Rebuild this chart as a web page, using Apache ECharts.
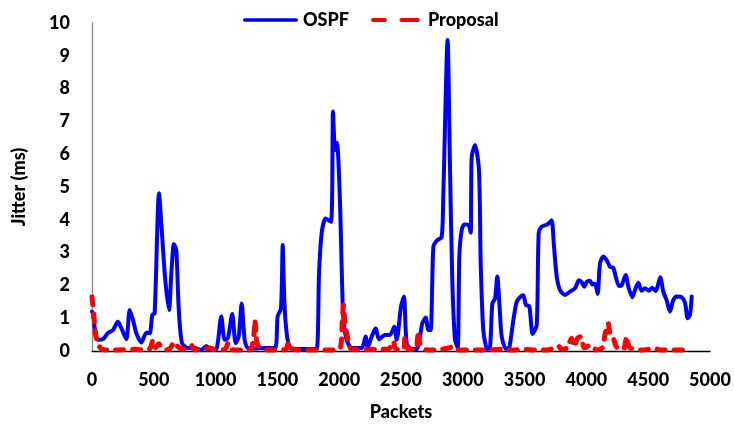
<!DOCTYPE html>
<html>
<head>
<meta charset="utf-8">
<script src="https://cdn.jsdelivr.net/npm/echarts@6/dist/echarts.min.js"></script>
<style>html,body{margin:0;padding:0;background:#fff}#c{width:734px;height:430px}</style>
</head>
<body>
<div id="c"></div>
<script>
const xTicks = [0, 500, 1000, 1500, 2000, 2500, 3000, 3500, 4000, 4500, 5000];
const yTicks = [0, 1, 2, 3, 4, 5, 6, 7, 8, 9, 10];
const seriesNames = ["OSPF", "Proposal"];

const ospfPackets = [0,8,30,49,89,129,170,210,237,278,305,332,359,399,440,467,488,507,542,566,593,623,642,663,682,701,728,777,830,885,925,965,1006,1046,1073,1100,1135,1162,1187,1211,1235,1260,1300,1400,1481,1502,1529,1543,1556,1575,1602,1669,1777,1818,1837,1858,1890,1934,1950,1966,1982,2006,2020,2033,2060,2101,2182,2214,2230,2263,2295,2322,2371,2411,2446,2465,2500,2524,2546,2586,2627,2654,2672,2700,2721,2740,2762,2789,2829,2842,2877,2896,2915,2937,2959,2972,2991,3013,3045,3064,3072,3099,3131,3145,3166,3198,3220,3239,3261,3279,3296,3315,3350,3376,3409,3436,3468,3490,3511,3538,3565,3598,3614,3638,3679,3700,3719,3738,3760,3786,3827,3867,3908,3940,3962,3983,4002,4029,4048,4070,4091,4110,4137,4164,4191,4218,4237,4264,4285,4318,4339,4372,4393,4420,4447,4474,4506,4533,4560,4598,4622,4649,4676,4703,4730,4770,4798,4819,4838,4852];
const ospfJitter = [1.2,1.15,0.5,0.34,0.36,0.55,0.64,0.89,0.7,0.36,1.25,0.94,0.54,0.26,0.56,0.54,1.1,1.15,4.81,3.59,2.16,1.25,2.37,3.26,3.08,1.35,0.24,0.09,0.09,0.03,0.15,0.03,0.05,1.05,0.34,0.4,1.13,0.24,0.44,1.45,0.34,0.09,0.08,0.09,0.09,1.05,1.3,3.23,1.55,0.54,0.12,0.06,0.06,0.06,2.37,3.59,4.04,3.94,7.3,6.13,6.35,4.6,2.57,1.05,0.34,0.09,0.09,0.44,0.1,0.44,0.69,0.36,0.49,0.49,0.74,0.34,1.35,1.66,0.23,0.06,0.06,0.44,0.84,1.02,0.64,0.64,3.18,3.36,3.48,4.7,9.48,5.72,2.16,0.34,0.1,2.88,3.69,3.86,3.85,3.61,5.92,6.28,5.52,2.67,0.64,0.06,0.1,1.45,1.6,2.27,1.45,0.44,0.06,0.1,0.94,1.5,1.66,1.7,1.4,1.37,0.52,0.79,3.59,3.79,3.85,3.91,3.99,3.18,2.27,1.86,1.71,1.81,1.91,2.16,2.1,1.96,2.11,2.14,2.03,2.05,1.74,2.67,2.88,2.77,2.57,2.54,2.27,1.98,2.0,2.32,1.97,1.64,1.86,2.08,1.84,1.91,1.84,1.93,1.83,2.25,1.81,1.55,1.2,1.55,1.66,1.64,1.47,1.0,1.1,1.66];

const proposalPackets = [0,15,30,50,80,150,250,350,420,470,494,515,540,570,620,669,690,730,803,830,900,952,1014,1080,1100,1120,1200,1280,1310,1318,1330,1345,1400,1500,1570,1589,1610,1700,1800,1960,2010,2025,2035,2045,2074,2100,2200,2300,2400,2438,2460,2520,2532,2560,2620,2640,2655,2700,2800,2924,2950,3100,3200,3300,3400,3500,3600,3700,3770,3800,3850,3859,3881,3900,3929,3956,3983,4037,4080,4130,4150,4177,4191,4218,4245,4300,4326,4345,4380,4450,4555,4600,4700,4780];
const proposalJitter = [1.65,1.1,0.5,0.2,0.05,0.03,0.04,0.05,0.03,0.08,0.34,0.1,0.22,0.06,0.04,0.28,0.15,0.05,0.18,0.04,0.04,0.09,0.03,0.06,0.23,0.05,0.03,0.03,0.5,0.95,0.4,0.15,0.03,0.03,0.05,0.27,0.08,0.03,0.03,0.03,0.1,0.9,1.4,0.9,0.3,0.05,0.04,0.05,0.05,0.3,0.05,0.05,0.4,0.05,0.05,0.6,0.2,0.04,0.03,0.12,0.03,0.03,0.03,0.05,0.03,0.05,0.03,0.04,0.16,0.05,0.1,0.23,0.39,0.12,0.39,0.44,0.1,0.18,0.03,0.1,0.49,0.84,0.54,0.39,0.12,0.05,0.44,0.12,0.06,0.03,0.07,0.03,0.03,0.03];

const zip = (xs, ys) => xs.map((x, i) => [x, ys[i]]);
const FONT = 'Lato';
const labelFont = {fontFamily: FONT, fontWeight: 900, fontSize: 18, color: '#000'};

const solidIcon = 'path://M1.75,0H53.25A1.75,1.75 0 0 1 53.25,3.5H1.75A1.75,1.75 0 0 1 1.75,0Z';
const dashIcon = 'path://M2.25,0H15.75A2.25,2.25 0 0 1 15.75,4.5H2.25A2.25,2.25 0 0 1 2.25,0Z M34.25,0H52.75A2.25,2.25 0 0 1 52.75,4.5H34.25A2.25,2.25 0 0 1 34.25,0Z';

const chart = echarts.init(document.getElementById('c'), null, {renderer: 'canvas'});
chart.setOption({
  animation: false,
  backgroundColor: '#fff',
  textStyle: {fontFamily: FONT},
  legend: {
    top: 6, left: 238,
    itemWidth: 55, itemHeight: 4, itemGap: 22,
    textStyle: labelFont,
    data: [
      {name: seriesNames[0], icon: solidIcon},
      {name: seriesNames[1], icon: dashIcon}
    ]
  },
  grid: {left: 92, right: 24, top: 23, bottom: 79, containLabel: false},
  xAxis: {
    type: 'value', min: xTicks[0], max: xTicks[xTicks.length - 1], interval: xTicks[1] - xTicks[0],
    name: 'Packets', nameLocation: 'middle', nameGap: 52,
    nameTextStyle: labelFont,
    axisLine: {show: true, onZero: false, lineStyle: {color: '#000', width: 1.3}},
    axisTick: {show: false},
    splitLine: {show: false},
    axisLabel: Object.assign({margin: 20, formatter: v => String(v)}, labelFont)
  },
  yAxis: {
    type: 'value', min: yTicks[0], max: yTicks[yTicks.length - 1], interval: yTicks[1] - yTicks[0],
    name: 'Jitter (ms)', nameLocation: 'middle', nameGap: 64, nameRotate: 90,
    nameTextStyle: labelFont,
    axisLine: {show: true, lineStyle: {color: '#888', width: 1.3}},
    axisTick: {show: false},
    splitLine: {show: false},
    axisLabel: Object.assign({margin: 22, formatter: v => String(v)}, labelFont)
  },
  series: [
    {
      name: seriesNames[0], type: 'line', showSymbol: false, symbol: 'none', smooth: 0.25,
      data: zip(ospfPackets, ospfJitter), z: 2,
      lineStyle: {color: '#0000ff', width: 4, cap: 'round', join: 'round'},
      itemStyle: {color: '#0000ff'}
    },
    {
      name: seriesNames[1], type: 'line', showSymbol: false, symbol: 'none', smooth: 0.25,
      data: zip(proposalPackets, proposalJitter), z: 3,
      lineStyle: {color: '#ff0000', width: 5, type: [8, 9], cap: 'round', join: 'round'},
      itemStyle: {color: '#ff0000'}
    }
  ]
});
</script>
</body>
</html>
